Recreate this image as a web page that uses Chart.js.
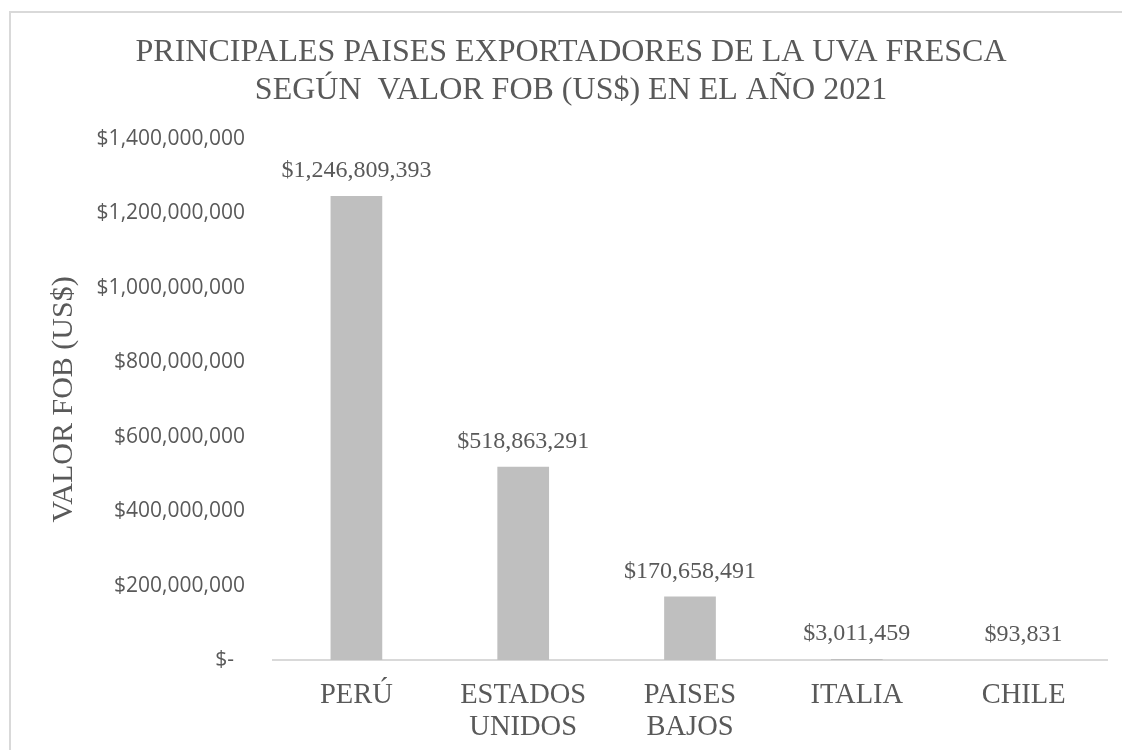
<!DOCTYPE html>
<html>
<head>
<meta charset="utf-8">
<script src="https://cdn.jsdelivr.net/npm/chart.js@4.4.0/dist/chart.umd.min.js"></script>
<style>
  body { margin: 0; background: #fff; overflow: hidden; }
  #marco { position: absolute; left: 9px; top: 11px; width: 1124px; height: 760px; border: 2px solid #d9d9d9; }
</style>
</head>
<body>
<div id="marco"><canvas id="grafico" width="1124" height="760"></canvas></div>
<script>
//datos del grafico
const paises = [['PERÚ'], ['ESTADOS', 'UNIDOS'], ['PAISES', 'BAJOS'], ['ITALIA'], ['CHILE']];
const valorFob = [1246809393, 518863291, 170658491, 3011459, 93831];
const titulo = ['PRINCIPALES PAISES EXPORTADORES DE LA UVA FRESCA', 'SEGÚN  VALOR FOB (US$) EN EL AÑO 2021'];
const tituloEje = 'VALOR FOB (US$)';
const maximoEje = 1400000000;
const pasoEje = 200000000;

const gris = '#595959';
const serif = 'Liberation Serif';

function dinero(v) {
    return '$' + v.toLocaleString('en-US');
}

//etiquetas encima de cada barra
const etiquetas = {
    id: 'etiquetas',
    afterDatasetsDraw(chart) {
        const ctx = chart.ctx;
        const meta = chart.getDatasetMeta(0);
        ctx.save();
        ctx.font = '24px "' + serif + '"';
        ctx.fillStyle = gris;
        ctx.textAlign = 'center';
        ctx.textBaseline = 'middle';
        meta.data.forEach((bar, i) => {
            ctx.fillText(dinero(valorFob[i]), bar.x, bar.y - 25);
        });
        ctx.restore();
    }
};

let grafico = new Chart(document.getElementById('grafico'), {
    type: 'bar',
    data: {
        labels: paises,
        datasets: [{
            data: valorFob,
            backgroundColor: '#bfbfbf',
            barPercentage: 0.31,
            categoryPercentage: 1
        }]
    },
    options: {
        responsive: false,
        animation: false,
        devicePixelRatio: 1,
        layout: { padding: { left: 24, right: 28 } },
        scales: {
            x: {
                grid: { display: false, drawTicks: false },
                border: { display: true, color: '#d9d9d9', width: 2 },
                ticks: {
                    color: gris,
                    padding: 19,
                    maxRotation: 0,
                    font: { family: serif, size: 28.5, lineHeight: 1.13 }
                },
                afterFit(scale) { scale.height = 113; }
            },
            y: {
                min: 0,
                max: maximoEje,
                grid: { display: false, drawTicks: false },
                border: { display: false },
                ticks: {
                    stepSize: pasoEje,
                    color: gris,
                    padding: 28,
                    font: { family: 'Open Sans', size: 21 },
                    callback: (v) => v === 0 ? '$-  ' : dinero(v)
                },
                title: {
                    display: true,
                    text: tituloEje,
                    color: gris,
                    padding: { top: 11, bottom: 0 },
                    font: { family: serif, size: 30, lineHeight: 1.2 }
                },
                afterFit(scale) { scale.width = 238; }
            }
        },
        plugins: {
            legend: { display: false },
            tooltip: { enabled: false },
            title: {
                display: true,
                text: titulo,
                color: gris,
                padding: { top: 21, bottom: 30 },
                font: { family: serif, size: 32, weight: 'normal', lineHeight: 1.17 }
            }
        }
    },
    plugins: [etiquetas]
});
</script>
</body>
</html>
